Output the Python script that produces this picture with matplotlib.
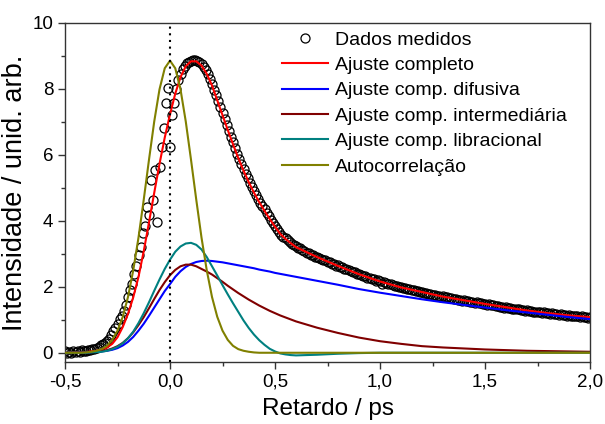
import numpy as np
import matplotlib
matplotlib.use("Agg")
import matplotlib.pyplot as plt
from matplotlib.ticker import MultipleLocator, FuncFormatter

plt.rcParams['font.family'] = ['Liberation Sans', 'DejaVu Sans']

# Delay axis of the fitted curves: fine sampling around time zero, coarser in the tail
retardo_fino = np.round(np.arange(-0.5, 0.6001, 0.025), 3)
retardo_cauda = np.round(np.arange(0.7, 2.0001, 0.1), 2)
retardo_ajuste = np.concatenate([retardo_fino, retardo_cauda])

ajuste_completo = [
    0.0, 0.0, 0.01, 0.01, 0.02, 0.04, 0.06, 0.1, 0.16, 0.27,
    0.47, 0.78, 1.18, 1.68, 2.3, 3.08, 3.95, 4.85, 5.72, 6.52,
    7.22, 7.85, 8.35, 8.68, 8.83, 8.83, 8.7, 8.45, 8.1, 7.65,
    7.2, 6.75, 6.32, 5.9, 5.52, 5.17, 4.85, 4.56, 4.3, 4.05,
    3.82, 3.6, 3.45, 3.32, 3.2,
    2.9, 2.63, 2.38, 2.16, 1.98, 1.84, 1.7, 1.59, 1.48, 1.38, 1.28, 1.2, 1.13, 1.08,
]
comp_difusiva = [
    0.0, 0.0, 0.0, 0.01, 0.01, 0.02, 0.03, 0.04, 0.06, 0.09,
    0.14, 0.22, 0.33, 0.48, 0.67, 0.88, 1.12, 1.37, 1.62, 1.87,
    2.08, 2.3, 2.47, 2.6, 2.69, 2.75, 2.78, 2.79, 2.78, 2.76,
    2.74, 2.71, 2.68, 2.65, 2.62, 2.59, 2.56, 2.52, 2.49, 2.46,
    2.42, 2.39, 2.36, 2.33, 2.3,
    2.18, 2.06, 1.93, 1.82, 1.72, 1.62, 1.53, 1.45, 1.37, 1.29, 1.22, 1.15, 1.08, 1.02,
]
comp_intermediaria = [
    0.0, 0.0, 0.0, 0.01, 0.01, 0.02, 0.03, 0.05, 0.08, 0.13,
    0.2, 0.3, 0.44, 0.62, 0.84, 1.08, 1.35, 1.63, 1.9, 2.14,
    2.35, 2.51, 2.62, 2.67, 2.67, 2.62, 2.54, 2.46, 2.37, 2.26,
    2.15, 2.03, 1.92, 1.81, 1.71, 1.61, 1.52, 1.43, 1.35, 1.27,
    1.2, 1.13, 1.07, 1.01, 0.95,
    0.76, 0.6, 0.46, 0.35, 0.27, 0.2, 0.16, 0.13, 0.1, 0.08, 0.06, 0.05, 0.04, 0.03,
]
comp_libracional = [
    0.0, 0.0, 0.0, 0.0, 0.0, 0.01, 0.02, 0.03, 0.06, 0.11,
    0.18, 0.29, 0.44, 0.64, 0.9, 1.2, 1.53, 1.88, 2.22, 2.54,
    2.82, 3.06, 3.22, 3.31, 3.33, 3.27, 3.13, 2.9, 2.62, 2.34,
    2.05, 1.77, 1.5, 1.24, 0.98, 0.75, 0.55, 0.38, 0.24, 0.12,
    0.04, -0.02, -0.05, -0.07, -0.08,
    -0.06, -0.03, -0.01, 0.0, 0.0, 0.0, 0.0, 0.0, 0.0, 0.0, 0.0, 0.0, 0.0, 0.0,
]
autocorrelacao = [
    0.0, 0.0, 0.0, 0.0, 0.01, 0.03, 0.06, 0.11, 0.21, 0.39,
    0.67, 1.09, 1.69, 2.5, 3.49, 4.64, 5.85, 7.01, 7.98, 8.62,
    8.85, 8.62, 7.98, 7.01, 5.85, 4.64, 3.49, 2.5, 1.69, 1.09,
    0.67, 0.39, 0.21, 0.11, 0.06, 0.03, 0.01, 0.0, 0.0, 0.0,
    0.0, 0.0, 0.0, 0.0, 0.0,
    0.0, 0.0, 0.0, 0.0, 0.0, 0.0, 0.0, 0.0, 0.0, 0.0, 0.0, 0.0, 0.0, 0.0,
]

# Measured signal, one point every 10 fs from -0.5 ps to 2.0 ps
dados_medidos = [
    0.04, 0.00, 0.03, -0.02, 0.06, 0.02, 0.05, 0.03, 0.07, 0.04,
    0.05, 0.09, 0.07, 0.12, 0.11, 0.15, 0.18, 0.22, 0.28, 0.31,
    0.36, 0.43, 0.53, 0.66, 0.76, 0.88, 1.02, 1.12, 1.27, 1.45,
    1.68, 1.90, 2.08, 2.40, 2.62, 2.96, 3.20, 3.62, 3.84, 4.43,
    4.17, 5.23, 4.63, 5.54, 3.97, 5.62, 6.24, 6.81, 7.56, 8.01,
    6.24, 7.20, 7.56, 8.00, 8.25, 8.45, 8.60, 8.70, 8.78, 8.82,
    8.85, 8.87, 8.86, 8.84, 8.80, 8.75, 8.67, 8.56, 8.44, 8.30,
    8.15, 7.97, 7.80, 7.62, 7.45, 7.27, 7.08, 6.90, 6.72, 6.55,
    6.38, 6.20, 6.03, 5.87, 5.72, 5.58, 5.43, 5.29, 5.15, 5.03,
    4.90, 4.79, 4.66, 4.55, 4.45, 4.35, 4.24, 4.13, 4.03, 3.94,
    3.85, 3.74, 3.66, 3.58, 3.52, 3.47, 3.42, 3.36, 3.31, 3.26,
    3.22, 3.17, 3.16, 3.10, 3.09, 3.03, 3.01, 2.97, 2.95, 2.90,
    2.91, 2.86, 2.85, 2.81, 2.80, 2.75, 2.74, 2.70, 2.69, 2.64,
    2.65, 2.60, 2.59, 2.55, 2.55, 2.50, 2.49, 2.45, 2.44, 2.40,
    2.39, 2.37, 2.33, 2.33, 2.28, 2.28, 2.23, 2.23, 2.18, 2.19,
    2.17, 2.08, 2.14, 2.12, 2.09, 2.08, 2.06, 2.03, 2.02, 1.99,
    1.99, 1.96, 1.96, 1.93, 1.93, 1.90, 1.90, 1.87, 1.87, 1.84,
    1.85, 1.82, 1.82, 1.79, 1.79, 1.76, 1.76, 1.73, 1.73, 1.70,
    1.71, 1.68, 1.69, 1.66, 1.66, 1.63, 1.64, 1.61, 1.61, 1.58,
    1.60, 1.57, 1.58, 1.55, 1.55, 1.52, 1.53, 1.50, 1.50, 1.47,
    1.49, 1.46, 1.47, 1.44, 1.44, 1.42, 1.42, 1.39, 1.40, 1.37,
    1.39, 1.36, 1.37, 1.34, 1.34, 1.32, 1.32, 1.29, 1.30, 1.27,
    1.29, 1.26, 1.27, 1.25, 1.25, 1.23, 1.23, 1.21, 1.22, 1.19,
    1.21, 1.18, 1.19, 1.17, 1.17, 1.15, 1.16, 1.13, 1.14, 1.12,
    1.13, 1.11, 1.12, 1.10, 1.10, 1.09, 1.10, 1.07, 1.08, 1.06,
    1.07,
]
retardo_dados = np.round(-0.5 + 0.01 * np.arange(len(dados_medidos)), 2)

rotulos = [
    "Dados medidos",
    "Ajuste completo",
    "Ajuste comp. difusiva",
    "Ajuste comp. intermediária",
    "Ajuste comp. libracional",
    "Autocorrelação",
]
cores = ["#FF0000", "#0000FF", "#800000", "#008080", "#808000"]

fig = plt.figure(figsize=(6.05, 4.24), dpi=100)
ax = fig.add_axes([65 / 605, 1 - 362 / 424, 525 / 605, (362 - 22.7) / 424])

ax.plot(retardo_dados, dados_medidos, linestyle="none", marker="o",
        markersize=6.5, markerfacecolor="none", markeredgecolor="black",
        markeredgewidth=0.9, label=rotulos[0], zorder=2)

curvas = [ajuste_completo, comp_difusiva, comp_intermediaria,
          comp_libracional, autocorrelacao]
for valores, cor, rotulo in zip(curvas, cores, rotulos[1:]):
    ax.plot(retardo_ajuste, valores, color=cor, linewidth=1.5,
            label=rotulo, zorder=3)

ax.axvline(0.0, color="black", linestyle=(0, (1, 2.2)), linewidth=1.5, zorder=4)

ax.set_xlim(-0.5, 2.0)
ax.set_ylim(-0.28, 10.0)
ax.xaxis.set_major_locator(MultipleLocator(0.5))
ax.xaxis.set_minor_locator(MultipleLocator(0.25))
ax.yaxis.set_major_locator(MultipleLocator(2))
ax.yaxis.set_minor_locator(MultipleLocator(1))
ax.xaxis.set_major_formatter(FuncFormatter(lambda v, p: f"{v:.1f}".replace(".", ",")))
ax.yaxis.set_major_formatter(FuncFormatter(lambda v, p: f"{v:.0f}"))

ax.tick_params(which="both", direction="out", width=1.0, labelsize=13.5,
               top=False, right=False, color="#333333")
ax.tick_params(which="major", length=5)
ax.tick_params(which="minor", length=3)
for s in ax.spines.values():
    s.set_linewidth(1.0)
    s.set_color("#333333")

ax.set_xlabel("Retardo / ps", fontsize=17.5, labelpad=5)
ax.set_ylabel("Intensidade / unid. arb.", fontsize=19.5, labelpad=3)

leg = ax.legend(loc="upper left", bbox_to_anchor=(281.7 / 605, 1 - 31 / 424),
                bbox_transform=fig.transFigure, frameon=False, fontsize=14,
                handlelength=2.4, handletextpad=0.35, labelspacing=0.4,
                borderpad=0, borderaxespad=0)

fig.savefig("out.png", dpi=100)
